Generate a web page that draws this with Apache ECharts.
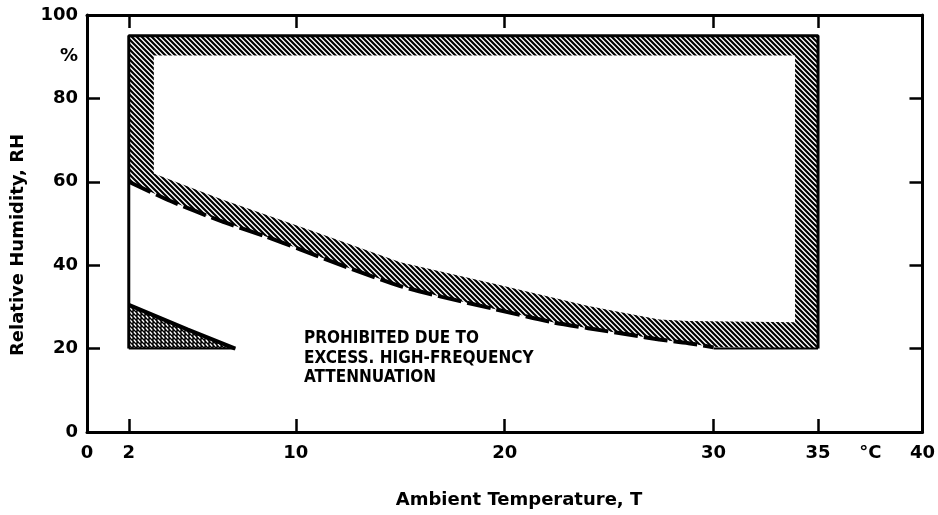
<!DOCTYPE html>
<html lang="en">
<head>
<meta charset="UTF-8">
<title>Relative Humidity vs Ambient Temperature</title>
<script src="https://cdn.jsdelivr.net/npm/echarts@6/dist/echarts.min.js"></script>
<style>
    html, body { margin: 0; padding: 0; background: #fff; }
    #main { width: 938px; height: 515px; }
</style>
</head>
<body>
<div id="main"></div>
<script type="text/javascript">
    // lower (dashed) edge of the hatched zone
    var edgeT  = [2, 4, 6.4, 8.5, 10.2, 12.5, 15, 17, 19.5, 22.3, 24, 26, 27.4, 28.8, 30];
    var edgeRH = [60, 55.4, 50.6, 47, 43.8, 39.4, 35, 32.4, 29.5, 26.3, 24.9, 23.3, 22.2, 21.3, 20.3];
    // upper edge of the hatched band that sits on the dashed line
    var innerT  = [3.2, 6.4, 10.8, 15, 19.7, 24, 26, 27.4, 28.8, 33.9];
    var innerRH = [62, 55.9, 48.2, 40.7, 35.3, 30.2, 28.3, 27, 26.6, 26.3];
    // outer box of the hatched zone and its inner edge
    var boxT  = [2, 35];
    var boxRH = [20, 95];
    var innerBoxT = [3.2, 33.9];
    var innerTopRH = 90.3;
    // small prohibited corner, bottom left
    var triT  = [2, 4.8, 7.1];
    var triRH = [30.5, 24.6, 20];

    // tick labels
    var xLabels = [0, 2, 10, 20, 30, 35, 37.5, 40];
    var xTicks  = [2, 10, 20, 30, 35];
    var yLabels = [0, 20, 40, 60, 80, 90, 100];
    var yTicks  = [20, 40, 60, 80];

    var FONT = '"DejaVu Sans", "Liberation Sans", sans-serif';

    function makePattern(size, cross) {
        var c = document.createElement('canvas');
        c.width = size;
        c.height = size;
        var ctx = c.getContext('2d');
        ctx.fillStyle = '#fff';
        ctx.fillRect(0, 0, size, size);
        ctx.strokeStyle = '#000';
        ctx.lineWidth = cross ? 1.4 : 2.2;
        ctx.beginPath();
        for (var k = -1; k <= 1; k++) {
            ctx.moveTo(k * size - 1, -1);
            ctx.lineTo(k * size + size + 1, size + 1);
        }
        if (cross) {
            ctx.moveTo(1, 0);
            ctx.lineTo(1, size);
        }
        ctx.stroke();
        return { image: c, repeat: 'repeat' };
    }
    var hatch = makePattern(5, false);
    var mesh = makePattern(4, true);

    function pairs(xs, ys) {
        var out = [];
        for (var i = 0; i < xs.length; i++) out.push([xs[i], ys[i]]);
        return out;
    }

    function renderBand(params, api) {
        var pts = [];
        pts.push(api.coord([boxT[0], boxRH[1]]));
        pts.push(api.coord([boxT[1], boxRH[1]]));
        pts.push(api.coord([boxT[1], boxRH[0]]));
        for (var i = edgeT.length - 1; i >= 0; i--) {
            pts.push(api.coord([edgeT[i], edgeRH[i]]));
        }
        pts.push(api.coord([boxT[0], boxRH[1]]));
        // the hole, walked the other way round
        pts.push(api.coord([innerBoxT[0], innerTopRH]));
        for (var j = 0; j < innerT.length; j++) {
            pts.push(api.coord([innerT[j], innerRH[j]]));
        }
        pts.push(api.coord([innerBoxT[1], innerTopRH]));
        pts.push(api.coord([innerBoxT[0], innerTopRH]));
        return { type: 'polygon', shape: { points: pts }, style: { fill: hatch, stroke: null } };
    }

    function renderTri(params, api) {
        var pts = [];
        for (var i = 0; i < triT.length; i++) pts.push(api.coord([triT[i], triRH[i]]));
        pts.push(api.coord([triT[0], triRH[triRH.length - 1]]));
        return { type: 'polygon', shape: { points: pts }, style: { fill: mesh, stroke: null } };
    }

    function lineSeries(data, width, type, smooth) {
        return {
            type: 'line',
            data: data,
            symbol: 'none',
            silent: true,
            animation: false,
            smooth: smooth || false,
            lineStyle: { color: '#000', width: width, type: type || 'solid', cap: 'butt' },
            z: 5
        };
    }

    var myChart = echarts.init(document.getElementById('main'));

    var axisLabelX = {
        customValues: xLabels,
        color: '#000',
        fontFamily: FONT,
        fontWeight: 'bold',
        fontSize: 18,
        margin: 12,
        formatter: function (v) { return v === 37.5 ? '°C' : String(v); }
    };
    var axisLabelY = {
        customValues: yLabels,
        color: '#000',
        fontFamily: FONT,
        fontWeight: 'bold',
        fontSize: 18,
        margin: 9,
        formatter: function (v) { return v === 90 ? '%' : String(v); }
    };
    var lineStyle = { color: '#000', width: 3 };
    var tickStyle = { color: '#000', width: 2.5 };

    function axis(kind, pos, labels) {
        return {
            type: 'value',
            position: pos,
            min: 0,
            max: kind === 'x' ? 40 : 100,
            axisLine: { show: true, onZero: false, lineStyle: lineStyle },
            axisTick: { show: true, inside: true, length: 13, customValues: kind === 'x' ? xTicks : yTicks, lineStyle: tickStyle },
            axisLabel: labels || { show: false },
            splitLine: { show: false }
        };
    }

    var option = {
        backgroundColor: '#fff',
        animation: false,
        grid: { left: 87, right: 13, top: 15, bottom: 83 },
        xAxis: [axis('x', 'bottom', axisLabelX), axis('x', 'top')],
        yAxis: [axis('y', 'left', axisLabelY), axis('y', 'right')],
        graphic: [
            {
                type: 'text', x: 519, y: 500,
                style: { text: 'Ambient Temperature, T', fill: '#000', fontFamily: FONT, fontWeight: 'bold',
                         fontSize: 18, align: 'center', verticalAlign: 'middle' }
            },
            {
                type: 'text', x: 18, y: 245, rotation: Math.PI / 2,
                style: { text: 'Relative Humidity, RH', fill: '#000', fontFamily: FONT, fontWeight: 'bold',
                         fontSize: 18, align: 'center', verticalAlign: 'middle' }
            },
            {
                type: 'text', x: 304, y: 329,
                style: { text: 'PROHIBITED DUE TO\nEXCESS. HIGH-FREQUENCY\nATTENNUATION', fill: '#000',
                         fontFamily: '"Liberation Sans Narrow", "DejaVu Sans Condensed", "DejaVu Sans", sans-serif',
                         fontWeight: 'bold', fontSize: 17, lineHeight: 19.5, align: 'left', verticalAlign: 'top' }
            }
        ],
        series: [
            { type: 'custom', renderItem: renderBand, data: [[0, 0]], silent: true, z: 2 },
            { type: 'custom', renderItem: renderTri, data: [[0, 0]], silent: true, z: 2 },
            lineSeries([[boxT[0], boxRH[0]], [boxT[0], boxRH[1]], [boxT[1], boxRH[1]], [boxT[1], boxRH[0]]], 3),
            lineSeries([[edgeT[edgeT.length - 1], boxRH[0]], [boxT[1], boxRH[0]]], 2),
            lineSeries(pairs(edgeT, edgeRH), 4, [24, 6], 0.25),
            lineSeries(pairs(triT, triRH), 4),
            lineSeries([[triT[0], triRH[triRH.length - 1]], [triT[triT.length - 1], triRH[triRH.length - 1]]], 2)
        ]
    };
    myChart.setOption(option);
</script>
</body>
</html>
